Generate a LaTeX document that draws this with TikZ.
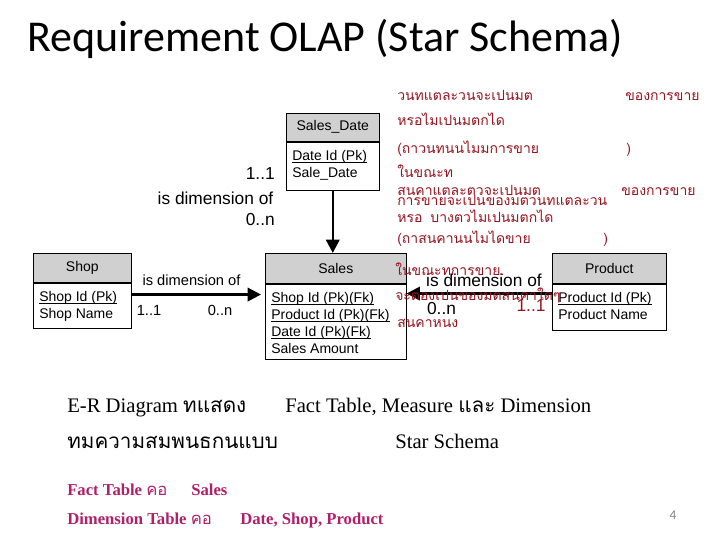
\documentclass[tikz,border=0pt]{standalone}
\usepackage{fontspec}
\setmainfont{Liberation Serif}
\newfontfamily\arialfont{Liberation Sans}
\newfontfamily\titlefont{Carlito}
\newfontfamily\thaifont[Script=Thai]{Loma}
\usetikzlibrary{arrows.meta,positioning}
\definecolor{noteRed}{RGB}{150,20,30}
\definecolor{notePink}{RGB}{176,32,104}
\definecolor{headGray}{RGB}{208,208,208}
\newcommand\keyfield[1]{\underline{\smash{#1}}}
\begin{document}
\begin{tikzpicture}[x=0.75pt,y=-0.75pt,
    thead/.style={draw,fill=headGray,inner sep=0pt,anchor=north west,
      font=\arialfont\fontsize{10.5}{13}\selectfont},
    tbody/.style={draw,fill=white,inner sep=0pt},
    field/.style={inner sep=0pt,anchor=base west,font=\arialfont\fontsize{10.5}{13}\selectfont},
    rel/.style={line width=1.8pt,-{Triangle[length=10pt,width=10pt]}},
    card/.style={inner sep=0pt,font=\arialfont\fontsize{13}{15}\selectfont},
    smallcard/.style={inner sep=0pt,font=\arialfont\fontsize{11}{13}\selectfont},
    note/.style={inner sep=0pt,anchor=base west,text=noteRed,
      font=\thaifont\fontsize{10.5}{12}\selectfont},
    body/.style={inner sep=0pt,anchor=base west,font=\fontsize{15.5}{18}\selectfont},
    pink/.style={inner sep=0pt,anchor=base west,text=notePink,
      font=\bfseries\fontsize{12.5}{15}\selectfont}]
  \useasboundingbox (0,0) rectangle (720,540);
  \node[inner sep=0pt,anchor=base west,font=\titlefont\fontsize{33}{36}\selectfont]
    (title) at (27,51) {Requirement OLAP (Star Schema)};

  % tables
  \node[thead,minimum width=69.75pt,minimum height=21pt] (datehead) at (286,113) {Sales\_Date};
  \node[tbody,minimum width=69.75pt,minimum height=36pt,below=0pt of datehead] (datebody) {};
  \node[field] (datef1) at (292,160) {\keyfield{Date Id (Pk)}};
  \node[field] (datef2) at (292,177) {Sale\_Date};

  \node[thead,minimum width=73.5pt,minimum height=21.75pt] (shophead) at (33,253) {Shop};
  \node[tbody,minimum width=73.5pt,minimum height=33.75pt,below=0pt of shophead] (shopbody) {};
  \node[field] (shopf1) at (39,301) {\keyfield{Shop Id (Pk)}};
  \node[field] (shopf2) at (39,318) {Shop Name};

  \node[thead,minimum width=105.75pt,minimum height=22.5pt] (saleshead) at (265,253) {Sales};
  \node[tbody,minimum width=105.75pt,minimum height=56.25pt,below=0pt of saleshead] (salesbody) {};
  \node[field] (salesf1) at (271,302) {\keyfield{Shop Id (Pk)(Fk)}};
  \node[field] (salesf2) at (271,319) {\keyfield{Product Id (Pk)(Fk)}};
  \node[field] (salesf3) at (271,336) {\keyfield{Date Id (Pk)(Fk)}};
  \node[field] (salesf4) at (271,353) {Sales Amount};

  \node[thead,minimum width=85.5pt,minimum height=22.5pt] (prodhead) at (552,253) {Product};
  \node[tbody,minimum width=85.5pt,minimum height=34.5pt,below=0pt of prodhead] (prodbody) {};
  \node[field] (prodf1) at (558,302) {\keyfield{Product Id (Pk)}};
  \node[field] (prodf2) at (558,319) {Product Name};

  % relations
  \draw[rel] (datebody.south) -- (datebody.south |- saleshead.north);
  \draw[rel,shorten >=3pt] ([yshift=-9pt]shopbody.north east)
    -- ([yshift=-9pt]shopbody.north east -| salesbody.west);
  \draw[rel] ([yshift=-7.5pt]prodbody.north west)
    -- ([yshift=-7.5pt]prodbody.north west -| salesbody.east);

  \node[card,anchor=east] (date11) at (275,174) {1..1};
  \node[card] (datedim) at (215.5,198) {is dimension of};
  \node[card,anchor=east] (date0n) at (275,220) {0..n};
  \node[smallcard] (shopdim) at (191.5,280) {is dimension of};
  \node[smallcard] (shop11) at (149,310) {1..1};
  \node[smallcard] (shop0n) at (220,310) {0..n};
  \node[card] (proddim) at (484,280) {is dimension of};
  \node[card] (prod0n) at (441.5,309) {0..n};
  \node[card,text=noteRed] (prod11) at (531,306) {1..1};

  % notes
  \node[note] (n1) at (397,100) {วนทแตละวนจะเปนมต};
  \node[note] (n1b) at (625,100) {ของการขาย};
  \node[note] (n2) at (397,125) {หรอไมเปนมตกได};
  \node[note] (n3) at (397,153) {(ถาวนทนนไมมการขาย};
  \node[note] (n3b) at (626,153) {)};
  \node[note] (n4) at (397,177) {ในขณะท};
  \node[note] (n5) at (397,195) {สนคาแตละตวจะเปนมต};
  \node[note] (n5b) at (621,195) {ของการขาย};
  \node[note] (n6) at (397,205) {การขายจะเปนของมตวนทแตละวน};
  \node[note] (n7) at (397,222) {หรอ\hspace{6pt}บางตวไมเปนมตกได};
  \node[note] (n8) at (397,243) {(ถาสนคานนไมไดขาย};
  \node[note] (n8b) at (603,243) {)};
  \node[note] (n9) at (395,275) {ในขณะทการขาย.};
  \node[note] (n10) at (395,300) {จะตองเปนของมตสนคาใดๆ};
  \node[note] (n11) at (397,327) {สนคาหนง};

  % text below
  \node[body] (er) at (67,412) {E-R Diagram {\thaifont ทแสดง}};
  \node[body] (fact) at (285,412) {Fact Table, Measure {\thaifont และ} Dimension};
  \node[body] (rel) at (67,448) {\thaifont ทมความสมพนธกนแบบ};
  \node[body] (star) at (395,448) {Star Schema};
  \node[pink] (facttab) at (67,495) {Fact Table {\mdseries\thaifont คอ}};
  \node[pink] (factval) at (191,495) {Sales};
  \node[pink] (dimtab) at (67,524) {Dimension Table {\mdseries\thaifont คอ}};
  \node[pink] (dimval) at (240,524) {Date, Shop, Product};
  \node[inner sep=0pt,text=gray,font=\titlefont\fontsize{10}{12}\selectfont] (page) at (673,515) {4};
\end{tikzpicture}
\end{document}
